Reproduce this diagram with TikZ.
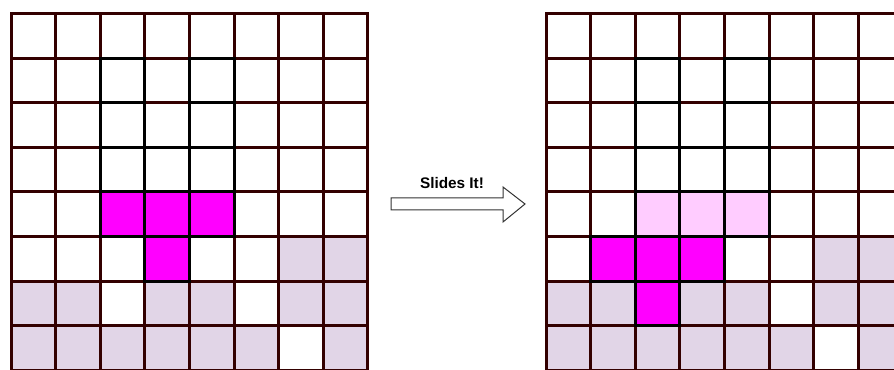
\documentclass[tikz,border=0pt]{standalone}
\usepackage{fontspec}
\setmainfont{Liberation Sans}
\definecolor{gridbrown}{HTML}{330000}
\definecolor{floorlilac}{HTML}{E1D5E7}
\definecolor{blockmag}{HTML}{FF00FF}
\definecolor{ghostpink}{HTML}{FFCCFF}
\tikzstyle{gridline} = [draw=gridbrown, line width=2.25pt, line cap=rect]
\tikzstyle{edge} = [draw=black, line width=2.25pt]
\tikzstyle{floor} = [fill=floorlilac]
\tikzstyle{block} = [fill=blockmag]
\tikzstyle{ghost} = [fill=ghostpink]
\tikzstyle{arrowbox} = [draw=black!80, line width=0.75pt, fill=white, line join=miter]
\tikzstyle{caption} = [font=\bfseries\fontsize{11.5}{13}\selectfont]
% one cell of a board: origin x, column, row, style
\newcommand{\cellat}[4]{\path [#4] (#1+#2*44.6, 356.5-#3*44.6) rectangle ++(44.6,-44.6);}

\begin{document}
\begin{tikzpicture}[x=0.75pt, y=0.75pt]
\useasboundingbox (0,0) rectangle (894,370);
\clip (0,0) rectangle (894,370);

% filled floor, the same on both boards
\foreach \gx in {11,546}
  \foreach \c/\r in {6/5,7/5,0/6,1/6,3/6,4/6,6/6,7/6,0/7,1/7,2/7,3/7,4/7,5/7,7/7}
    \cellat{\gx}{\c}{\r}{floor};

% falling piece before and after the slide
\foreach \c/\r in {2/4,3/4,4/4,3/5} \cellat{11}{\c}{\r}{block};
\foreach \c/\r in {2/4,3/4,4/4} \cellat{546}{\c}{\r}{ghost};
\foreach \c/\r in {1/5,2/5,3/5,2/6} \cellat{546}{\c}{\r}{block};

% board lines
\foreach \gx in {11,546}
  \foreach \i in {0,...,8} {
    \draw [gridline] (\gx+\i*44.6, 356.5) -- (\gx+\i*44.6, 356.5-8*44.6);
    \draw [gridline] (\gx, 356.5-\i*44.6) -- (\gx+8*44.6, 356.5-\i*44.6);
  }

% darker cell borders
\foreach \c/\r in {2/1,2/2,2/3,4/1,4/2,4/3,3/3,2/4,3/4,4/4,3/5}
  \cellat{11}{\c}{\r}{edge};
\foreach \c/\r in {2/1,2/2,2/3,4/1,4/2,4/3,3/3,2/4,3/4,4/4,1/5,2/5,3/5,2/6}
  \cellat{546}{\c}{\r}{edge};

% slide arrow
\draw [arrowbox] (391,172) -- (503,172) -- (503,183) -- (525,166) -- (503,148) -- (503,160) -- (391,160) -- cycle;
\node [caption] (title) at (452,187) {Slides It!};
\end{tikzpicture}
\end{document}
